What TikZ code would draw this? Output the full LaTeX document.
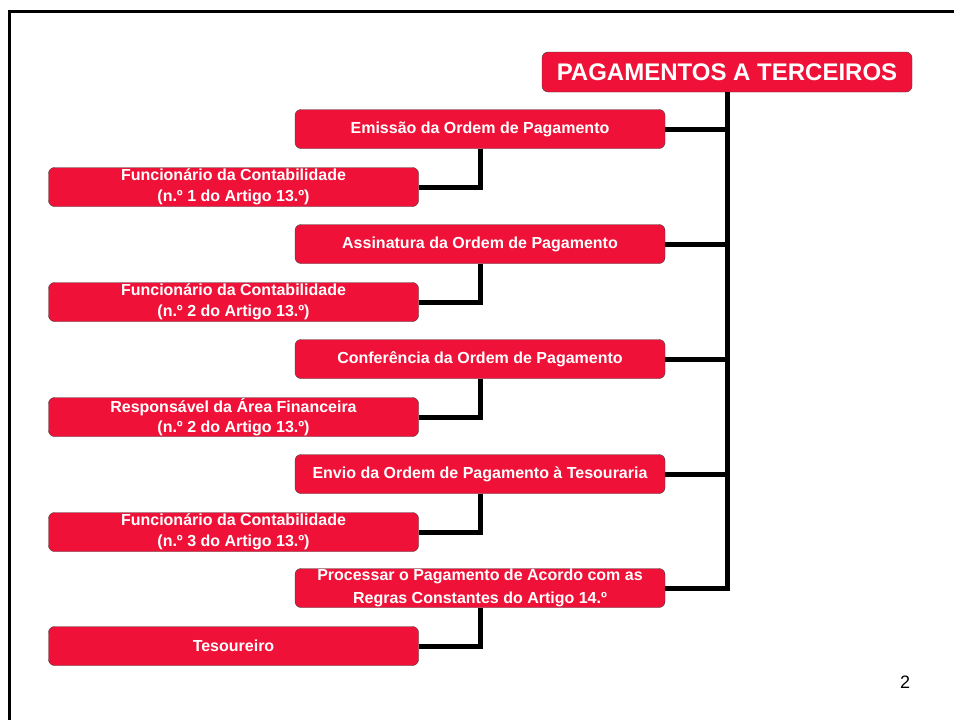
\documentclass[tikz,border=0pt]{standalone}
\usepackage{fontspec}
\setmainfont{Liberation Sans}
\usetikzlibrary{positioning}
\definecolor{boxred}{RGB}{239,17,55}
\tikzset{
  box/.style={draw=black!75, fill=boxred, rounded corners=6pt, text=white,
    font=\bfseries\fontsize{16}{20.5}\selectfont, align=center,
    minimum width=370pt, minimum height=39pt, inner sep=0pt},
  link/.style={line width=5pt, black}
}
\begin{document}
\begin{tikzpicture}[x=1pt,y=-1pt]
            \useasboundingbox (0,0) rectangle (954,720);
            \draw[line width=3pt] (954,11) -- (9,11) -- (9,720);   %frame
            \node[box, minimum height=40pt, font=\bfseries\fontsize{24}{24}\selectfont] (title) at (727,72) {PAGAMENTOS A TERCEIROS};
            % steps
            \node[box] (emissao) at (480,129) {Emissão da Ordem de Pagamento};
            \node[box] (assinatura) at (480,244) {Assinatura da Ordem de Pagamento};
            \node[box] (conferencia) at (480,359) {Conferência da Ordem de Pagamento};
            \node[box] (envio) at (480,474) {Envio da Ordem de Pagamento à Tesouraria};
            \node[box, font=\bfseries\fontsize{16}{23}\selectfont] (processar) at (480,588) {Processar o Pagamento de Acordo com as\\Regras Constantes do Artigo 14.º};
            % who does it
            \node[box] (func1) at (233.5,187) {Funcionário da Contabilidade\\(n.º 1 do Artigo 13.º)};
            \node[box] (func2) at (233.5,302) {Funcionário da Contabilidade\\(n.º 2 do Artigo 13.º)};
            \node[box] (resp) at (233.5,417) {Responsável da Área Financeira\\(n.º 2 do Artigo 13.º)};
            \node[box] (func3) at (233.5,532) {Funcionário da Contabilidade\\(n.º 3 do Artigo 13.º)};
            \node[box] (tesoureiro) at (233.5,646) {Tesoureiro};
            % trunk
            \draw[link] (processar.east) -| (title.south);
            \draw[link] (emissao.east) -- (emissao.east -| title.south);
            \draw[link] (assinatura.east) -- (assinatura.east -| title.south);
            \draw[link] (conferencia.east) -- (conferencia.east -| title.south);
            \draw[link] (envio.east) -- (envio.east -| title.south);
            % branches
            \draw[link] (emissao.south) |- (func1.east);
            \draw[link] (assinatura.south) |- (func2.east);
            \draw[link] (conferencia.south) |- (resp.east);
            \draw[link] (envio.south) |- (func3.east);
            \draw[link] (processar.south) |- (tesoureiro.east);
            \node (pagenum) at (905,682) {\fontsize{18}{18}\selectfont 2};
        \end{tikzpicture}
\end{document}
